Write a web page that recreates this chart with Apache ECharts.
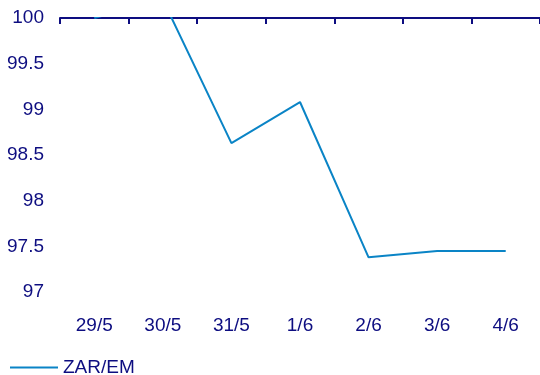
<!DOCTYPE html>
<html>
<head lang="en">
    <meta charset="UTF-8">
    <title>ZAR/EM</title>
    <style>
        html, body {margin:0; padding:0; background:#fff;}
        #main {width:540px; height:375px;}
    </style>
</head>
<body>
<div id="main"></div>

<script src="https://cdn.jsdelivr.net/npm/echarts@6/dist/echarts.min.js"></script>
<script>
    var days = ['29/5', '30/5', '31/5', '1/6', '2/6', '3/6', '4/6'];
    var zarEm = [100, 100.2, 98.63, 99.08, 97.38, 97.45, 97.45];
    var seriesName = 'ZAR/EM';

    var navy = '#0d0d80';
    var lineBlue = '#0a84c6';
    var font = 'Liberation Sans, Arial, sans-serif';

    var myChart = echarts.init(document.getElementById('main'));

    var option = {
        backgroundColor: '#fff',
        animation: false,
        grid: {left: 60, right: 0, top: 18, bottom: 83},
        legend: {
            left: 10,
            top: 358,
            padding: 0,
            itemWidth: 48,
            itemHeight: 2,
            icon: 'rect',
            data: [seriesName],
            textStyle: {color: navy, fontSize: 19, fontFamily: font}
        },
        xAxis: [{
            // axis line drawn at 100, ticks pointing down
            type: 'category',
            position: 'top',
            data: days,
            boundaryGap: true,
            axisLine: {show: true, lineStyle: {color: navy, width: 2}},
            axisTick: {show: true, inside: true, length: 6, interval: 0, lineStyle: {color: navy, width: 2}},
            axisLabel: {show: false}
        }, {
            type: 'category',
            position: 'bottom',
            data: days,
            axisLine: {show: false},
            axisTick: {show: false},
            axisLabel: {color: navy, fontSize: 19, fontFamily: font, margin: 24}
        }],
        yAxis: {
            type: 'value',
            min: 97,
            max: 100,
            interval: 0.5,
            axisLine: {show: false},
            axisTick: {show: false},
            splitLine: {show: false},
            axisLabel: {color: navy, fontSize: 19, fontFamily: font, margin: 16}
        },
        series: [{
            name: seriesName,
            type: 'line',
            xAxisIndex: 0,
            data: zarEm,
            clip: true,
            symbol: 'none',
            itemStyle: {color: lineBlue},
            lineStyle: {color: lineBlue, width: 2}
        }]
    };
    myChart.setOption(option);
</script>
</body>
</html>
